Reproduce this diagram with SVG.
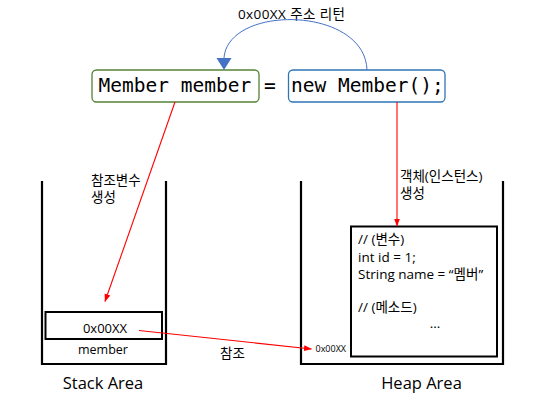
<svg xmlns="http://www.w3.org/2000/svg" width="548" height="410" viewBox="0 0 548 410">
<style>
.kr{font-family:"Open Sans","Noto Sans CJK KR",sans-serif;fill:#000}
.mono{font-family:"DejaVu Sans Mono","Liberation Mono",monospace;font-size:19.5px;fill:#000}
.wall{fill:none;stroke:#000;stroke-width:2.2}
.red{fill:none;stroke:#FF0000;stroke-width:1.1}
</style>
<defs>
<marker id="ar" viewBox="0 0 8 8" refX="7.5" refY="4" markerWidth="8" markerHeight="8" markerUnits="userSpaceOnUse" orient="auto">
<path d="M0,1 L8,4 L0,7 Z" fill="#FF0000"/>
</marker>
</defs>
<rect width="548" height="410" fill="#fff"/>
<g id="return-label">
<text class="kr" x="238" y="19" font-size="13.5" letter-spacing="0.4">0x00XX 주소 리턴</text>
</g>
<g id="declaration">
<rect x="92" y="70" width="167" height="32" rx="4.5" fill="#fff" stroke="#548235" stroke-width="1.3"/>
<text class="mono" x="98.5" y="92">Member member</text>
</g>
<g id="equals">
<text class="mono" x="264" y="92">=</text>
</g>
<g id="instantiation">
<rect x="288.5" y="70" width="156.5" height="32" rx="4.5" fill="#fff" stroke="#2E75B6" stroke-width="1.3"/>
<text class="mono" x="291" y="92">new Member();</text>
</g>
<g id="stack">
<path class="wall" d="M42,181 V364 H166 V181"/>
<rect x="45.5" y="312" width="116.5" height="27" fill="#fff" stroke="#000" stroke-width="2"/>
<text class="kr" x="105" y="332.5" font-size="13" text-anchor="middle">0x00XX</text>
<text class="kr" x="103" y="353.5" font-size="12.5" text-anchor="middle">member</text>
<text class="kr" x="103" y="389" font-size="16.5" text-anchor="middle">Stack Area</text>
</g>
<g id="heap">
<path class="wall" d="M301,181 V364 H503 V181"/>
<rect x="351" y="226.5" width="146" height="130" fill="#fff" stroke="#000" stroke-width="2"/>
<g class="kr" font-size="13.5">
<text x="358" y="244">// (변수)</text>
<text x="358" y="261.5">int id = 1;</text>
<text x="358" y="279">String name = “멤버”</text>
<text x="358" y="312">// (메소드)</text>
<text x="435" y="328" text-anchor="middle">...</text>
</g>
<text class="kr" x="315.5" y="351.5" font-size="9">0x00XX</text>
<text class="kr" x="421.5" y="389" font-size="16.5" text-anchor="middle">Heap Area</text>
</g>
<g id="labels">
<text class="kr" x="91" y="184.5" font-size="13.5">참조변수</text>
<text class="kr" x="91" y="201.5" font-size="13.5">생성</text>
<text class="kr" x="400" y="181" font-size="13.5">객체(인스턴스)</text>
<text class="kr" x="400" y="198" font-size="13.5">생성</text>
<text class="kr" x="220" y="358" font-size="13.5">참조</text>
</g>
<g id="connectors">
<path d="M367,70 C365,6 228,4 224,58" fill="none" stroke="#4472C4" stroke-width="1"/>
<path d="M216.5,58 L231.5,58 L224,70 Z" fill="#4472C4"/>
<line class="red" x1="175" y1="102" x2="105" y2="301.5" marker-end="url(#ar)"/>
<line class="red" x1="397" y1="102" x2="397" y2="226" marker-end="url(#ar)"/>
<line class="red" x1="139" y1="330.5" x2="311.5" y2="349" marker-end="url(#ar)"/>
</g>
</svg>
